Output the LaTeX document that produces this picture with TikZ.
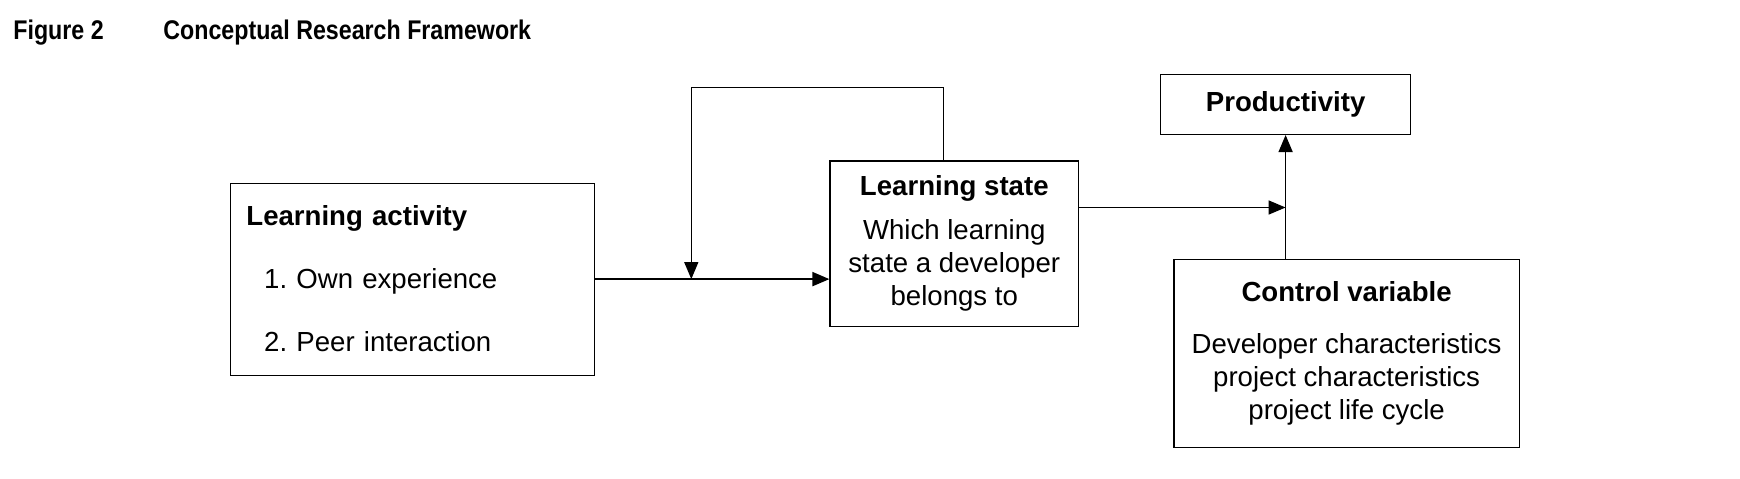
\documentclass[tikz,border=0pt]{standalone}
\usepackage{fontspec}
\setmainfont{Liberation Sans}
\newfontfamily\condfont[FakeStretch=0.86]{Liberation Sans}
\usetikzlibrary{arrows.meta}
\frenchspacing

\begin{document}
\begin{tikzpicture}[x=0.5pt, y=-0.5pt,
    box/.style={draw, line width=0.6pt, inner sep=0pt, align=center,
                font=\fontsize{13.8pt}{16.5pt}\selectfont},
    arr/.style={line width=0.7pt, -{Triangle[length=8.5pt, width=7pt]}}]
    \useasboundingbox (0,0) rectangle (1740,478);
    % caption
    \node[anchor=base west, inner sep=0pt, font=\condfont\bfseries\fontsize{13.5pt}{16pt}\selectfont] (fig) at (13,39) {Figure 2};
    \node[anchor=base west, inner sep=0pt, font=\condfont\bfseries\fontsize{13.5pt}{16pt}\selectfont] (cap) at (163,39) {Conceptual Research Framework};
    % boxes
    \node[box, minimum width=182pt, minimum height=96pt, text width=166.4pt, align=left] (act) at (412.8,279.1)
        {\textbf{Learning activity}\\[15pt]
         \hspace*{8.9pt}1. Own experience\\[15pt]
         \hspace*{8.9pt}2. Peer interaction\\[-12pt]};
    \node[box, minimum width=124.3pt, minimum height=82.7pt] (state) at (954.3,243.6)
        {\textbf{Learning state}\\[5.3pt]
         Which learning\\ state a developer\\ belongs to};
    \node[box, minimum width=124.9pt, minimum height=30pt] (prod) at (1285.6,104.4) {\textbf{Productivity}};
    \node[box, minimum width=172.6pt, minimum height=93.8pt] (ctrl) at (1346.6,353.5)
        {\textbf{Control variable}\\[9.5pt]
         Developer characteristics\\ project characteristics\\ project life cycle};
    % connectors
    \coordinate (loop) at (691.3,87.7);
    \coordinate (join) at (prod.south |- 0,207.5);
    \draw[arr, line width=1pt] (act.east) -- (act.east -| state.west);
    \draw[arr] ([xshift=-5.5pt]state.north) |- (loop) -- (loop |- act.east);
    \draw[arr] (join -| state.east) -- (join);
    \draw[arr] (ctrl.north -| join) -- (prod.south);
\end{tikzpicture}
\end{document}
